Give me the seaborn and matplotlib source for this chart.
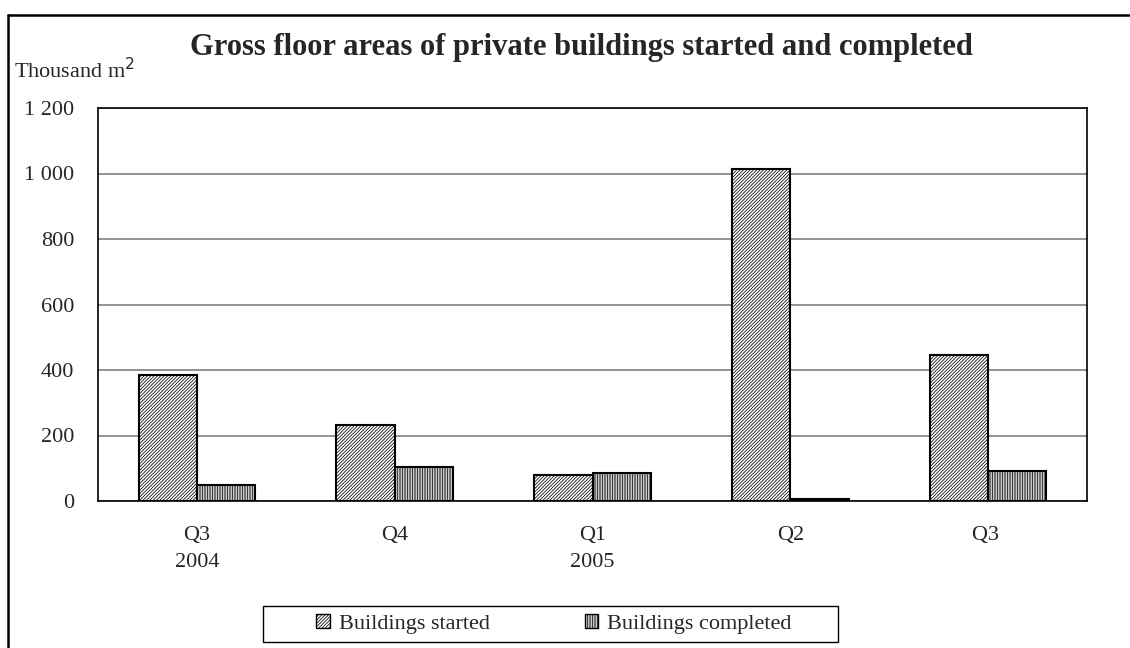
import matplotlib
matplotlib.use("Agg")
import matplotlib.pyplot as plt
from matplotlib.lines import Line2D
from matplotlib.patches import Rectangle
import seaborn as sns
import pandas as pd

quarters = ["Q3\n2004", "Q4", "Q1\n2005", "Q2", "Q3 "]
started = [385, 233, 78, 1013, 445]
completed = [49, 103, 87, 7, 91]
series_names = ["Buildings started", "Buildings completed"]
y_ticks = [0, 200, 400, 600, 800, 1000, 1200]
y_tick_labels = ["0", "200", "400", "600", "800", "1 000", "1 200"]

df = pd.DataFrame({
    "quarter": quarters * 2,
    "value": started + completed,
    "series": [series_names[0]] * len(quarters) + [series_names[1]] * len(quarters),
})

sns.set_theme(style="white")
plt.rcParams["font.family"] = ["Liberation Serif", "DejaVu Serif"]
plt.rcParams["hatch.linewidth"] = 0.55

W, H = 1130, 648
fig = plt.figure(figsize=(W / 100, H / 100), dpi=100)
ax = fig.add_axes([98 / W, 1 - 501 / H, (1087 - 98) / W, (501 - 108) / H])

sns.barplot(data=df, x="quarter", y="value", hue="series", order=quarters,
            hue_order=series_names, palette=["white", "white"], width=0.59,
            edgecolor="black", linewidth=1.5, ax=ax, legend=True, saturation=1)

hatches = {series_names[0]: "//////////", series_names[1]: "||||||||||"}
for cont, name in zip(ax.containers, series_names):
    for bar in cont:
        bar.set_hatch(hatches[name])
        bar.set_edgecolor("black")

FS = 16
ax.set_ylim(0, 1200)
ax.set_yticks(y_ticks)
ax.set_yticklabels(y_tick_labels, fontsize=FS)
ax.set_xticks(range(len(quarters)))
ax.set_xticklabels(quarters, fontsize=FS, linespacing=1.6)
ax.set_xlabel("")
ax.set_ylabel("")
ax.yaxis.grid(True, color="#808080", linewidth=1.2)
ax.set_axisbelow(True)
for s in ax.spines.values():
    s.set_color("black")
    s.set_linewidth(1.2)
ax.tick_params(axis="x", length=0, pad=18)
ax.tick_params(axis="y", length=0, pad=17)

# legend
leg_old = ax.get_legend()
handles = leg_old.legend_handles
labels = [t.get_text() for t in leg_old.get_texts()]
leg_old.remove()
for h, name in zip(handles, series_names):
    h.set_hatch(hatches[name])
    h.set_edgecolor("black")
    h.set_facecolor("white")
    h.set_linewidth(1.0)
fig.add_artist(Rectangle((263 / W, 1 - 642 / H), (838 - 263) / W, (642 - 606) / H,
                         transform=fig.transFigure, facecolor="white",
                         edgecolor="black", linewidth=1.0))
leg = fig.legend(handles, labels, loc="center", ncol=2,
                 bbox_to_anchor=(554 / W, 1 - 624 / H),
                 frameon=False, fontsize=FS, handlelength=0.6,
                 handleheight=0.6, handletextpad=0.4, borderpad=0.0,
                 columnspacing=4.3)

fig.text(581 / W, 1 - 47 / H, "Gross floor areas of private buildings started and completed",
         ha="center", va="center", fontsize=22, fontweight="bold")
fig.text(14 / W, 1 - 71 / H, "Thousand m$^2$", ha="left", va="center", fontsize=FS)

# outer frame
fig.add_artist(Line2D([8 / W, 1.0], [1 - 15 / H, 1 - 15 / H], color="black", linewidth=1.8,
                      transform=fig.transFigure))
fig.add_artist(Line2D([8 / W, 8 / W], [0, 1 - 15 / H], color="black", linewidth=1.8,
                      transform=fig.transFigure))

fig.savefig("out.png", dpi=100, facecolor="white")
